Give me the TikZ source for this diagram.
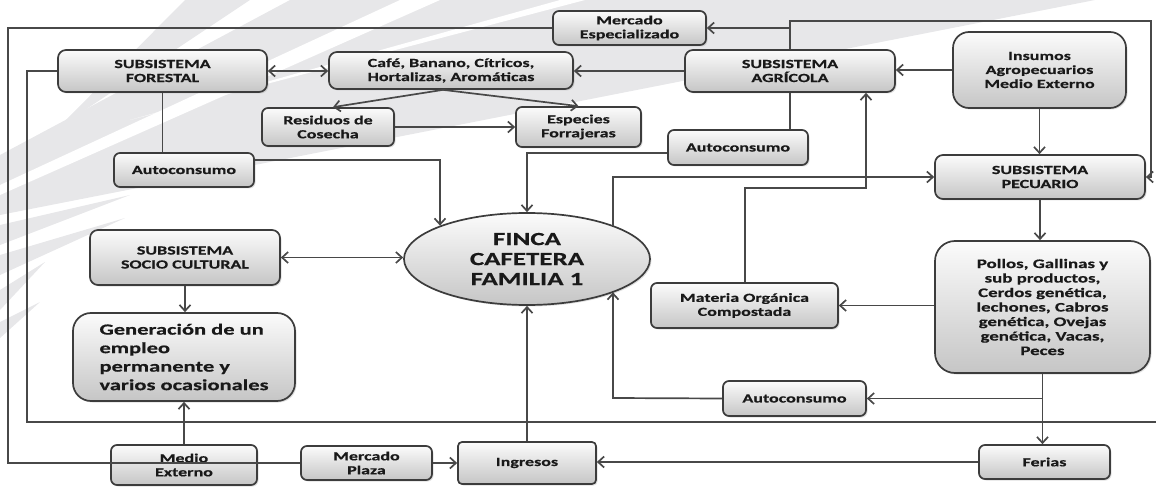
\documentclass[tikz,border=0pt]{standalone}
\usepackage{fontspec}
\setmainfont[FakeStretch=1.45, BoldFeatures={FakeBold=0.5}]{Carlito}
\usetikzlibrary{arrows.meta,shapes.geometric,shadows}
\definecolor{bordc}{RGB}{60,60,60}
\definecolor{linec}{RGB}{72,72,72}
\definecolor{bgstripe}{RGB}{231,231,233}
\tikzset{
  box/.style={draw=bordc, line width=1.7pt, rounded corners=6pt, top color=gray!3, bottom color=gray!45,
    align=center, inner sep=0pt, text=black!90, font=\bfseries\fontsize{12.4}{14}\selectfont,
    drop shadow={opacity=0.25, shadow xshift=1.5pt, shadow yshift=-1.5pt}},
  conn/.style={draw=linec, line width=1.7pt},
  arr/.style={conn, -{Straight Barb[length=6pt,width=11pt]}},
  darr/.style={conn, {Straight Barb[length=6pt,width=11pt]}-{Straight Barb[length=6pt,width=11pt]}},
}
\begin{document}
\begin{tikzpicture}[x=1pt,y=-1pt]
\useasboundingbox (0,0) rectangle (1156,489);
% background stripes
\fill[bgstripe] (185,0) -- (250,0) -- (58,128) -- cycle;
\fill[bgstripe] (290,0) -- (1095,0) -- (0,215) -- (0,155) -- cycle;
\fill[white] (400,0) -- (440,0) -- (0,195) -- (0,185) -- cycle;
\fill[white] (560,0) -- (585,0) -- (130,120) -- cycle;
\fill[bgstripe] (0,225) -- (130,195) -- (0,245) -- cycle;
\fill[bgstripe] (0,255) -- (125,218) -- (0,275) -- cycle;
\fill[bgstripe] (0,290) -- (45,262) -- (0,310) -- cycle;
\fill[bgstripe] (0,322) -- (40,302) -- (0,338) -- cycle;
% nodes
\node[box, minimum width=153pt, minimum height=34pt] (mesp) at (629.5,28) {Mercado\\Especializado};
\node[box, minimum width=209pt, minimum height=42pt, rounded corners=8pt] (forestal) at (162.5,71) {SUBSISTEMA\\FORESTAL};
\node[box, minimum width=244pt, minimum height=37pt, rounded corners=8pt] (cafe) at (451,70.5) {Café, Banano, Cítricos,\\Hortalizas, Aromáticas};
\node[box, minimum width=210pt, minimum height=42pt, rounded corners=8pt] (agricola) at (790,71) {SUBSISTEMA\\AGRÍCOLA};
\node[box, minimum width=173pt, minimum height=76pt, rounded corners=16pt] (insumos) at (1039.5,70) {Insumos\\Agropecuarios\\Medio Externo};
\node[box, minimum width=132pt, minimum height=38pt] (residuos) at (328,127) {Residuos de\\Cosecha};
\node[box, minimum width=125pt, minimum height=40pt] (especies) at (578.5,127) {Especies\\Forrajeras};
\node[box, minimum width=140pt, minimum height=34pt] (auto1) at (184,170) {Autoconsumo};
\node[box, minimum width=140pt, minimum height=35pt] (auto2) at (738,147.5) {Autoconsumo};
\node[box, minimum width=210pt, minimum height=44pt, rounded corners=8pt] (pecuario) at (1040,177) {SUBSISTEMA\\PECUARIO};
\node[box, minimum width=190pt, minimum height=55pt, rounded corners=8pt] (socio) at (185,257.5) {SUBSISTEMA\\SOCIO CULTURAL};
\node[box, ellipse, rounded corners=0pt, minimum width=246pt, minimum height=92pt, font=\bfseries\fontsize{18.6}{20}\selectfont] (finca) at (527,259) {FINCA\\CAFETERA\\FAMILIA 1};
\node[box, minimum width=222pt, minimum height=88pt, rounded corners=18pt, align=left, font=\bfseries\fontsize{15.5}{18.5}\selectfont] (gen) at (184,357) {Generación de un\\empleo\\permanente y\\varios ocasionales};
\node[box, minimum width=187pt, minimum height=45pt] (materia) at (744.5,305.5) {Materia Orgánica\\Compostada};
\node[box, minimum width=215pt, minimum height=132pt, rounded corners=20pt, font=\bfseries\fontsize{13}{14.5}\selectfont] (pollos) at (1042.5,307) {Pollos, Gallinas y\\sub productos,\\Cerdos genética,\\lechones, Cabros\\genética, Ovejas\\genética, Vacas,\\Peces};
\node[box, minimum width=143pt, minimum height=35pt] (auto3) at (794.5,398.5) {Autoconsumo};
\node[box, minimum width=146pt, minimum height=40pt] (medio) at (184,465) {Medio\\Externo};
\node[box, minimum width=131pt, minimum height=34pt] (mplaza) at (366.5,463) {Mercado\\Plaza};
\node[box, minimum width=138pt, minimum height=42pt, rounded corners=4pt] (ingresos) at (527,463) {Ingresos};
\node[box, minimum width=131pt, minimum height=34pt] (ferias) at (1044.5,462) {Ferias};
% coordinates
\coordinate (j1) at (440,160);
\coordinate (j2) at (527,153);
\coordinate (j3) at (613,177);
\coordinate (j4) at (745,188);
\coordinate (j5) at (866,188);
\coordinate (j6) at (613,398);
\coordinate (oa) at (8,28);
\coordinate (ob) at (8,463);
\coordinate (ia) at (27,71);
\coordinate (ib) at (27,422);
\coordinate (ic) at (1156,422);
\coordinate (ra) at (1151,21);
\coordinate (rb) at (1151,177);
% connectors
\draw[conn] (mesp.west) -- (oa) -- (ob) -- (mplaza.west);
\draw[arr] (agricola.north) -- (agricola.north |- ra) -- (ra) -- (rb) -- (pecuario.east);
\draw[arr] (agricola.north |- mesp.east) -- (mesp.east);
\draw[darr] (forestal.east) -- (forestal.east -| cafe.west);
\draw[arr] (agricola.west) -- (agricola.west -| cafe.east);
\draw[arr] (insumos.west) -- (insumos.west -| agricola.east);
\draw[arr] (insumos.south) -- (insumos.south |- pecuario.north);
\draw[arr] ([xshift=-8pt]cafe.south) -- ([xshift=5pt]residuos.north);
\draw[arr] ([xshift=-8pt]cafe.south) -- (especies.north);
\draw[arr] (residuos.east) -- (residuos.east -| especies.west);
\draw[conn] (forestal.south) -- (forestal.south |- auto1.north);
\draw[arr] (auto1.east |- j1) -- (j1) -- (j1 |- finca.159.5);
\draw[conn] (agricola.south) -- (agricola.south |- auto2.north);
\draw[arr] (auto2.west |- j2) -- (j2) -- (finca.north);
\draw[darr] (socio.east) -- (socio.east -| finca.west);
\draw[arr] (socio.south) -- (socio.south |- gen.north);
\draw[arr] (medio.north) -- (medio.north |- gen.south);
\draw[arr] (ingresos.north) -- (finca.south);
\draw[conn] (forestal.west) -- (ia) -- (ib) -- (ic);
\draw[arr] (j3 |- finca.21) -- (j3) -- (pecuario.west);
\draw[arr] (materia.north -| j4) -- (j4) -- (j5) -- (j5 |- agricola.south);
\draw[arr] (auto3.west) -- (j6) -- (j6 |- finca.-21);
\draw[arr] (pecuario.south) -- (pecuario.south |- pollos.north);
\draw[arr] (pollos.west |- materia.east) -- (materia.east);
\draw[arr] (pollos.south) -- (pollos.south |- ferias.north);
\draw[arr] (pollos.south |- auto3.east) -- (auto3.east);
\draw[arr] (mplaza.east) -- (mplaza.east -| ingresos.west);
\draw[arr] (ferias.west) -- (ferias.west -| ingresos.east);
\end{tikzpicture}
\end{document}
